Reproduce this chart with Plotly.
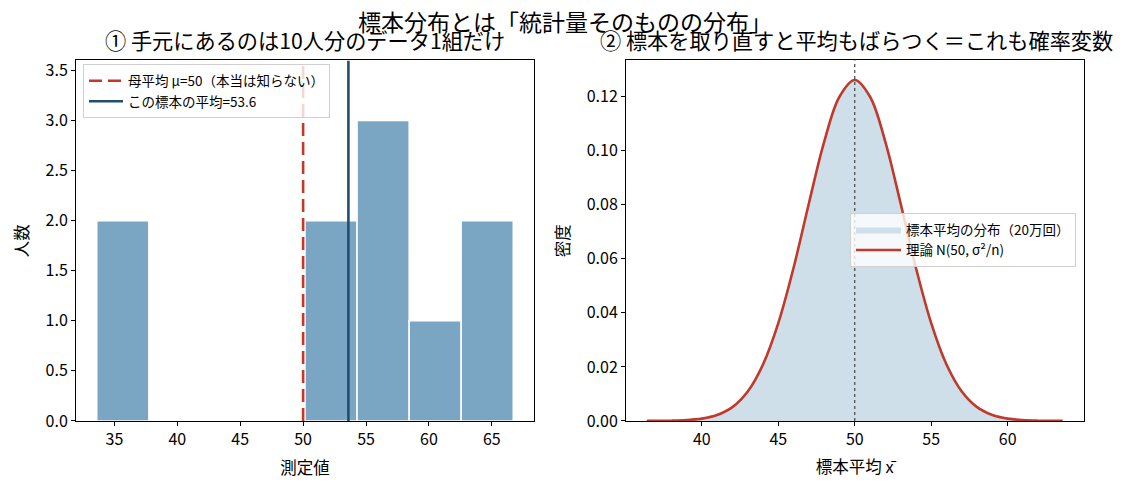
import plotly.graph_objects as go

# 左：手元の10人分のデータ（ヒストグラムの集計値）
bin_edges = [33.6, 37.74, 41.88, 46.01, 50.15, 54.29, 58.43, 62.56, 66.7]
counts = [2, 0, 0, 0, 2, 3, 1, 2]
mu = 50
sample_mean = 53.6

# 右：標本平均の分布（20万回）と理論曲線 N(50, σ²/n)
xbar_grid = [36.4, 37, 38, 39, 40, 41, 42, 43, 44, 45, 46, 47, 48, 49, 50,
             51, 52, 53, 54, 55, 56, 57, 58, 59, 60, 61, 62, 63, 63.6]
sim_density = [0.0, 0.0, 0.0001, 0.0003, 0.0009, 0.0023, 0.0052, 0.0110, 0.0210, 0.0363,
               0.0568, 0.0806, 0.1035, 0.1203, 0.1266, 0.1204, 0.1034, 0.0805, 0.0566,
               0.0361, 0.0208, 0.0109, 0.0051, 0.0022, 0.0008, 0.0003, 0.0001, 0.0, 0.0]
theory_density = [0.00001, 0.000027, 0.000094, 0.0003, 0.00085, 0.0022, 0.0051, 0.0109,
                  0.0209, 0.0362, 0.0567, 0.0805, 0.1033, 0.1200, 0.1262, 0.1200, 0.1033,
                  0.0805, 0.0567, 0.0362, 0.0209, 0.0109, 0.0051, 0.0022, 0.00085, 0.0003,
                  0.000094, 0.000027, 0.00001]

FONT = "Noto Sans CJK JP"
BAR = "#7ba6c3"
RED = "#c0392b"
NAVY = "#1f4e6e"
FILL = "#cfdfe9"

# page body has an 8px margin, so the figure is 16px smaller than the window
W, H, PAD = 1113, 473, 8


def px(x):
    return (x - PAD) / W


def py(y):
    # the photo came out a bit squeezed vertically, compensate
    y = (y - 2.9) / 0.969
    return (H + PAD - y) / H


left_ymax = max(counts) * 1.2
right_ymax = max(sim_density) * 1.054

centers = [(a + b) / 2 for a, b in zip(bin_edges[:-1], bin_edges[1:])]
widths = [b - a for a, b in zip(bin_edges[:-1], bin_edges[1:])]

fig = go.Figure()

fig.add_trace(go.Bar(
    x=centers, y=counts, width=widths,
    marker=dict(color=BAR, line=dict(color="white", width=1.5)),
    showlegend=False, xaxis="x", yaxis="y",
))
fig.add_trace(go.Scatter(
    x=[mu, mu], y=[0, left_ymax], mode="lines",
    line=dict(color=RED, width=2.6, dash="13px,6px"),
    name="母平均 μ=50（本当は知らない）", legend="legend", xaxis="x", yaxis="y",
))
fig.add_trace(go.Scatter(
    x=[sample_mean, sample_mean], y=[0, left_ymax], mode="lines",
    line=dict(color=NAVY, width=2.6),
    name=f"この標本の平均={sample_mean}", legend="legend", xaxis="x", yaxis="y",
))

fig.add_trace(go.Scatter(
    x=xbar_grid, y=sim_density, mode="lines", fill="tozeroy",
    fillcolor=FILL, line=dict(width=0, shape="spline"),
    name="標本平均の分布（20万回）", legend="legend2", xaxis="x2", yaxis="y2",
))
fig.add_trace(go.Scatter(
    x=xbar_grid, y=theory_density, mode="lines",
    line=dict(color=RED, width=2.6, shape="spline"),
    name="理論 N(50, σ²/n)", legend="legend2", xaxis="x2", yaxis="y2",
))

# 右：μ=50 の点線
fig.add_shape(type="line", x0=mu, x1=mu, y0=0, y1=1, xref="x2", yref="y2 domain",
              line=dict(color="#444444", width=1.2, dash="dot"), layer="above")

axis_common = dict(
    showline=True, mirror=True, linecolor="black", linewidth=1,
    ticks="outside", ticklen=4, tickcolor="black", showgrid=False, zeroline=False,
    tickfont=dict(size=16, color="black"),
)
ydom = [py(420), py(60)]

fig.update_layout(
    width=W, height=H,
    margin=dict(l=0, r=0, t=0, b=0),
    paper_bgcolor="white", plot_bgcolor="white",
    font=dict(family=FONT, color="black"),
    xaxis=dict(domain=[px(76), px(534)], range=[31.95, 68.35], dtick=5,
               title=dict(text="測定値", font=dict(size=16.5), standoff=13),
               anchor="y", **axis_common),
    yaxis=dict(domain=ydom, range=[0, left_ymax], dtick=0.5, tickformat=".1f",
               title=dict(text="人数", font=dict(size=16.5), standoff=12),
               anchor="x", **axis_common),
    xaxis2=dict(domain=[px(626), px(1083.5)], range=[35.04, 64.96], dtick=5,
                title=dict(text="標本平均 x\u0304", font=dict(size=16.5), standoff=12),
                anchor="y2", **axis_common),
    yaxis2=dict(domain=ydom, range=[0, right_ymax], dtick=0.02, tickformat=".2f",
                title=dict(text="密度", font=dict(size=16.5), standoff=12),
                anchor="x2", **axis_common),
    legend=dict(x=px(83), y=py(64), xanchor="left", yanchor="top",
                bgcolor="rgba(255,255,255,0.8)", bordercolor="#d0d0d0", borderwidth=1,
                font=dict(size=13.5), tracegroupgap=0, itemwidth=34),
    legend2=dict(x=px(1076), y=py(239.5), xanchor="right", yanchor="middle",
                 bgcolor="rgba(255,255,255,0.8)", bordercolor="#d0d0d0", borderwidth=1,
                 font=dict(size=13.5), tracegroupgap=0, itemwidth=45),
    showlegend=True,
    annotations=[
        dict(text="標本分布とは「統計量そのものの分布」", x=px(565), y=py(21),
             xref="paper", yref="paper", showarrow=False, font=dict(size=23),
             xanchor="center", yanchor="middle"),
        dict(text="① 手元にあるのは10人分のデータ1組だけ", x=px(305), y=py(39),
             xref="paper", yref="paper", showarrow=False, font=dict(size=21.2),
             xanchor="center", yanchor="middle"),
        dict(text="② 標本を取り直すと平均もばらつく＝これも確率変数", x=px(856),
             y=py(39), xref="paper", yref="paper", showarrow=False,
             font=dict(size=21.2), xanchor="center", yanchor="middle"),
    ],
)

fig.write_html("out.html")
